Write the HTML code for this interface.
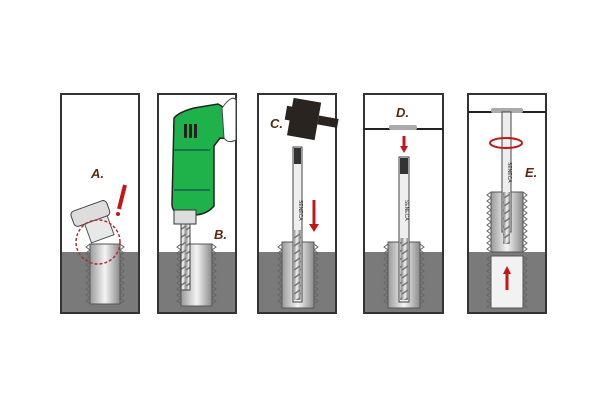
<!DOCTYPE html>
<html><head><style>body{margin:0;background:#fff}svg{display:block}</style></head><body>
<svg width="600" height="400" viewBox="0 0 600 400" xmlns="http://www.w3.org/2000/svg" font-family="Liberation Sans, sans-serif">
<defs>
<linearGradient id="m" x1="0" x2="1"><stop offset="0" stop-color="#9a9a9a"/><stop offset=".5" stop-color="#f4f4f4"/><stop offset="1" stop-color="#8a8a8a"/></linearGradient>
<pattern id="th" width="6" height="8" patternUnits="userSpaceOnUse"><rect width="6" height="8" fill="url(#m)"/><path d="M0 6 L6 2" stroke="#777" stroke-width="1.5"/></pattern>
<path id="zl" d="M0 0 l-4 3 4 3 -4 3 4 3 -4 3 4 3 -4 3 4 3 -4 3 4 3 -4 3 4 3 -4 3 4 3 -4 3 4 3 -4 3 4 3 -4 3 4 3" fill="none" stroke="#666"/>
<path id="zr" d="M0 0 l4 3 -4 3 4 3 -4 3 4 3 -4 3 4 3 -4 3 4 3 -4 3 4 3 -4 3 4 3 -4 3 4 3 -4 3 4 3 -4 3 4 3 -4 3" fill="none" stroke="#666"/>
<clipPath id="ce"><rect x="469" y="252" width="76" height="56"/></clipPath>
</defs>
<g stroke="#333" stroke-width="2">
<rect x="61" y="94" width="78" height="219" fill="#fff"/>
<rect x="158" y="94" width="78" height="219" fill="#fff"/>
<rect x="258" y="94" width="78" height="219" fill="#fff"/>
<rect x="364" y="94" width="79" height="219" fill="#fff"/>
<rect x="468" y="94" width="78" height="219" fill="#fff"/>
</g>
<g fill="#7a7a7a">
<rect x="62" y="252" width="76" height="60"/><rect x="159" y="252" width="76" height="60"/>
<rect x="259" y="252" width="76" height="60"/><rect x="365" y="252" width="77" height="60"/>
<rect x="469" y="252" width="76" height="60"/>
</g>
<g stroke="#555" stroke-width="1">
<path d="M90 244 h30 v60 h-30 z" fill="url(#m)"/>
<path d="M181 244 h31 v62 h-31 z" fill="url(#m)"/>
<path d="M282 242 h32 v66 h-32 z" fill="url(#m)"/>
<path d="M388 242 h32 v66 h-32 z" fill="url(#m)"/>
<path d="M491 192 h32 v60 h-32 z" fill="url(#m)"/>
<path d="M491 256 h32 v52 h-32 z" fill="#f2f2f2"/>
</g>
<use href="#zl" x="90" y="244"/><use href="#zr" x="120" y="244"/>
<use href="#zl" x="181" y="244"/><use href="#zr" x="212" y="244"/>
<use href="#zl" x="282" y="244"/><use href="#zr" x="314" y="244"/>
<use href="#zl" x="388" y="244"/><use href="#zr" x="420" y="244"/>
<use href="#zl" x="491" y="192"/><use href="#zr" x="523" y="192"/>
<g clip-path="url(#ce)"><use href="#zl" x="491" y="256"/><use href="#zr" x="523" y="256"/></g>
<g transform="rotate(-20 92 215)"><rect x="72" y="205" width="38" height="16" rx="4" fill="#ddd" stroke="#444"/><rect x="82" y="221" width="24" height="20" fill="#e8e8e8" stroke="#555"/></g>
<circle cx="98" cy="242" r="22" fill="none" stroke="#b03030" stroke-width="1.5" stroke-dasharray="3 2"/>
<path d="M125 185 l-6 24" stroke="#c01818" stroke-width="4"/><circle cx="118" cy="214" r="2" fill="#c01818"/>
<text x="91" y="178" font-size="13" font-weight="bold" font-style="italic" fill="#5a2a10">A.</text>
<path d="M174 118 q5 -6 20 -10 l24 -4 q12 6 18 24 v4 q-10 8 -16 6 l-6 8 v60 q-10 12 -30 8 q-12 0 -12 -10 z" fill="#1fb24a" stroke="#222" stroke-width="1.5"/>
<rect x="184" y="124" width="3" height="14" fill="#222"/><rect x="189" y="124" width="3" height="14" fill="#222"/><rect x="194" y="124" width="3" height="14" fill="#222"/>
<path d="M174 150 h36 M174 190 h36" stroke="#135" stroke-width="1"/>
<path d="M222 108 q10 -14 14 -8 v40 q-8 4 -12 -2 z" fill="#fff" stroke="#444"/>
<rect x="174" y="210" width="22" height="14" fill="#ddd" stroke="#333"/>
<rect x="181" y="224" width="9" height="66" fill="url(#th)" stroke="#444"/>
<text x="214" y="239" font-size="13" font-weight="bold" font-style="italic" fill="#5a2a10">B.</text>
<text x="270" y="128" font-size="13" font-weight="bold" font-style="italic" fill="#5a2a10">C.</text>
<g transform="rotate(10 310 120)"><rect x="290" y="101" width="28" height="38" fill="#2a2420"/><rect x="318" y="114" width="20" height="9" fill="#2a2420"/><rect x="285" y="110" width="6" height="14" fill="#2a2420"/></g>
<rect x="293" y="147" width="9" height="155" fill="#eee" stroke="#444"/><rect x="294" y="148" width="7" height="16" fill="#333"/>
<rect x="294" y="230" width="7" height="70" fill="url(#th)"/>
<text transform="translate(299 200) rotate(90)" font-size="5" fill="#333">SENECA</text>
<path d="M314 200 v26" stroke="#c01818" stroke-width="3"/><path d="M309 224 l5 8 5 -8z" fill="#c01818"/>
<path d="M364 129 h79" stroke="#222" stroke-width="2"/><rect x="389" y="125" width="28" height="5" rx="2" fill="#aaa"/>
<text x="396" y="117" font-size="13" font-weight="bold" font-style="italic" fill="#5a2a10">D.</text>
<path d="M404 136 v12" stroke="#c01818" stroke-width="3"/><path d="M400 146 l4 7 4 -7z" fill="#c01818"/>
<rect x="399" y="157" width="10" height="145" fill="#eee" stroke="#444"/><rect x="400" y="158" width="8" height="16" fill="#333"/>
<rect x="400" y="238" width="8" height="62" fill="url(#th)"/>
<text transform="translate(405 200) rotate(90)" font-size="5" fill="#333">SENECA</text>
<path d="M468 112 h78" stroke="#222" stroke-width="2"/><rect x="491" y="108" width="32" height="5" rx="2" fill="#aaa"/>
<rect x="502" y="112" width="9" height="120" fill="#eee" stroke="#444"/>
<rect x="503" y="192" width="7" height="52" fill="url(#th)"/>
<text transform="translate(508 162) rotate(90)" font-size="5" fill="#333">SENECA</text>
<ellipse cx="506" cy="143" rx="16" ry="5" fill="none" stroke="#c01818" stroke-width="2"/>
<text x="525" y="177" font-size="13" font-weight="bold" font-style="italic" fill="#5a2a10">E.</text>
<path d="M507 290 v-18" stroke="#c01818" stroke-width="3"/><path d="M503 274 l4 -8 4 8z" fill="#c01818"/>
</svg>
</body></html>
